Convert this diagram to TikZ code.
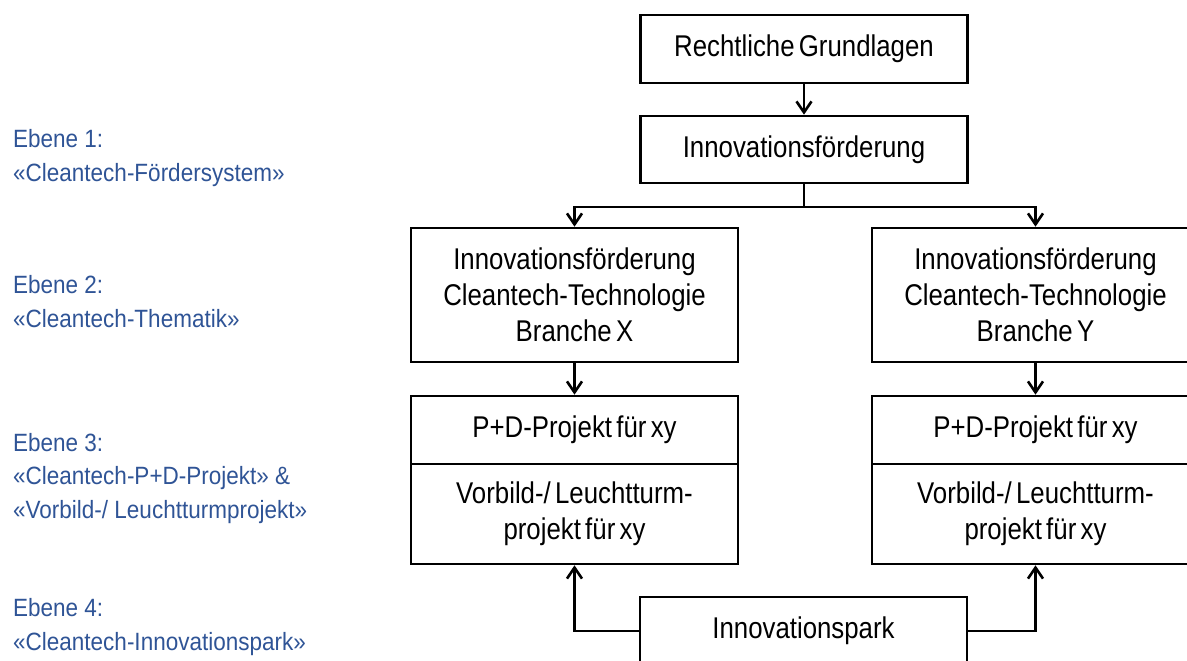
\documentclass[tikz,border=0pt]{standalone}
\usepackage{fontspec}
\setmainfont{Liberation Sans}
\newfontfamily\boxfont[FakeStretch=0.86,WordSpace=0.6]{Liberation Sans}
\newfontfamily\lblfont[FakeStretch=0.9]{Liberation Sans}
\usetikzlibrary{arrows.meta}
\definecolor{lblblue}{RGB}{47,84,150}
\begin{document}
\begin{tikzpicture}[x=1pt,y=-1pt,
  box/.style={draw, line width=2.6pt, minimum width=327pt, inner sep=0pt,
    font=\boxfont\fontsize{30}{36}\selectfont, align=center},
  conn/.style={line width=2.6pt, -{Straight Barb[length=11pt,width=15pt,line width=2.6pt]}},
  plain/.style={line width=2.6pt},
  lbl/.style={anchor=base west, inner sep=0pt, text=lblblue,
    font=\lblfont\fontsize{25}{33.5}\selectfont, align=left}]
\useasboundingbox (0,0) rectangle (1187,661);
\clip (0,0) rectangle (1187,661);
% boxes
\node[box, minimum height=68pt] (rg) at (804,49) {Rechtliche Grundlagen};
\node[box, minimum height=67pt] (if) at (804,149.5) {Innovationsförderung};
\node[box, minimum height=134pt] (bx) at (574.5,295) {Innovationsförderung\\Cleantech-Technologie\\Branche X};
\node[box, minimum height=134pt] (by) at (1035.5,295) {Innovationsförderung\\Cleantech-Technologie\\Branche Y};
\node[box, minimum height=68pt] (pdx) at (574.5,430) {P+D-Projekt für xy};
\node[box, minimum height=100pt] (vbx) at (574.5,514) {Vorbild-/ Leuchtturm-\\projekt für xy};
\node[box, minimum height=68pt] (pdy) at (1035.5,430) {P+D-Projekt für xy};
\node[box, minimum height=100pt] (vby) at (1035.5,514) {Vorbild-/ Leuchtturm-\\projekt für xy};
\node[box, minimum height=68pt] (ip) at (803.5,631) {Innovationspark};
% connectors
\coordinate (fork) at (804,207);
\draw[conn] (rg) -- (if);
\draw[plain] (if.south) -- (fork);
\draw[conn] (fork) -| (bx.north);
\draw[conn] (fork) -| (by.north);
\draw[conn] (bx) -- (pdx);
\draw[conn] (by) -- (pdy);
\draw[conn] (ip.west) -| (vbx.south);
\draw[conn] (ip.east) -| (vby.south);
% level labels (anchor = baseline of last line)
\node[lbl] (e1) at (13,181) {Ebene 1:\\«Cleantech-Fördersystem»};
\node[lbl] (e2) at (13,327) {Ebene 2:\\«Cleantech-Thematik»};
\node[lbl] (e3) at (13,518) {Ebene 3:\\«Cleantech-P+D-Projekt» \&\\«Vorbild-/ Leuchtturmprojekt»};
\node[lbl] (e4) at (13,650) {Ebene 4:\\«Cleantech-Innovationspark»};
\end{tikzpicture}
\end{document}
